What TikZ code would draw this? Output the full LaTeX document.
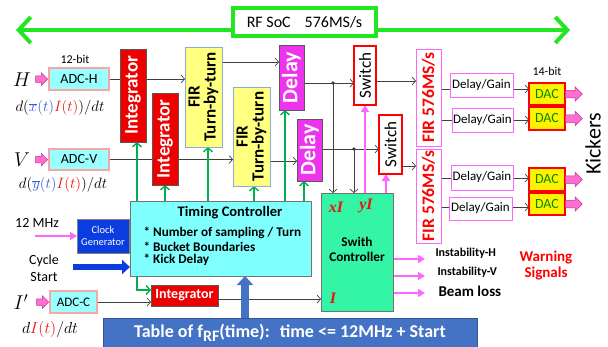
\documentclass[tikz,border=0pt]{standalone}
\usepackage{fix-cm}
\usepackage{fontspec}
\setmainfont{Carlito}
\newfontfamily\serifit{Liberation Serif}
\usetikzlibrary{arrows.meta,shapes.arrows,calc}
\pgfdeclarelayer{background}
\pgfsetlayers{background,main}
\newcommand\fs[1]{\fontsize{#1}{#1}\selectfont}
\newcommand\mybox[7]{\node[#2, minimum width={(#5-#3)*1pt}, minimum height={(#6-#4)*1pt}] (#1) at ({(#3+#5)/2},{(#4+#6)/2}) {#7};}
\definecolor{gline}{HTML}{404040}
\definecolor{bgreen}{HTML}{22E622}
\definecolor{tgreen}{HTML}{00B050}
\definecolor{intred}{HTML}{EE0000}
\definecolor{firyel}{HTML}{FFFF80}
\definecolor{firedge}{HTML}{8EA9DB}
\definecolor{delmag}{HTML}{EE33EE}
\definecolor{pinkl}{HTML}{FF66FF}
\definecolor{pinkf}{HTML}{FF6FCF}
\definecolor{pinkd}{HTML}{C0309A}
\definecolor{adccyan}{HTML}{99FFFF}
\definecolor{adcred}{HTML}{E05050}
\definecolor{adcpink}{HTML}{F4A8A8}
\definecolor{tccyan}{HTML}{80FFFF}
\definecolor{swgreen}{HTML}{33F5A5}
\definecolor{clkblue}{HTML}{0A3CE0}
\definecolor{tblblue}{HTML}{4472C4}
\definecolor{dacgreen}{HTML}{008A00}
\definecolor{fblue}{HTML}{2F5FE0}
\definecolor{fred}{HTML}{EE1111}
\tikzset{
 bx/.style={inner sep=0pt, outer sep=0pt},
 intbox/.style={bx, fill=intred, draw=black!65, line width=0.7pt},
 firbox/.style={bx, fill=firyel, draw=firedge, line width=0.9pt},
 delbox/.style={bx, fill=delmag, draw=black!65, line width=0.7pt},
 swbox/.style={bx, fill=white, draw=red, line width=1.6pt},
 ffbox/.style={bx, fill=white, draw=pinkl, line width=0.9pt},
 dgbox/.style={bx, fill=white, draw=pinkl, line width=0.9pt, font=\fs{13}},
 dacbox/.style={bx, fill=yellow, draw=red, line width=1.6pt, text=dacgreen, font=\fs{14}},
 adcbox/.style={bx, fill=adccyan, draw=adcred, line width=0.7pt, double=adcpink, double distance=1.4pt, font=\fs{14}},
 rtxt/.style={rotate=90, inner sep=0pt, align=center},
 mlab/.style={inner sep=0pt},
 gl/.style={draw=gline, line width=0.7pt, -{Straight Barb[length=3.5pt,width=8pt]}},
 glp/.style={draw=gline, line width=0.7pt},
 ga/.style={draw=tgreen, line width=1.4pt, -{Straight Barb[length=4pt,width=9pt]}},
 pk/.style={draw=pinkl, line width=1.6pt, -{Triangle[length=7pt,width=8pt]}},
 blk/.style={single arrow, fill=pinkf, draw=pinkd, line width=0.5pt, inner xsep=0pt, inner ysep=3pt, single arrow head extend=3pt, single arrow head indent=0pt},
}
\begin{document}
\begin{tikzpicture}[x=1pt,y=-1pt]
\useasboundingbox (0,0) rectangle (608,346);
% title
\mybox{rfsoc}{bx, draw=bgreen, line width=3.5pt, fill=white, font=\fs{16}}{233}{8}{376}{36}{RF SoC\hspace{14pt}576MS/s}
\coordinate (gL) at (16,30);
\coordinate (gR) at (570,30);
% inputs
\node[font=\fs{12}] (b12) at (75,59) {12-bit};
\node[font=\fs{12}] (b14) at (547,71) {14-bit};
\mybox{adch}{adcbox}{49}{68}{109}{90}{ADC-H}
\mybox{adcv}{adcbox}{49}{149}{109}{170}{ADC-V}
\mybox{adcc}{adcbox}{50}{291}{97}{313}{\fs{13}ADC-C}
\node[mlab, font=\fs{20}] (lH) at (22,80) {$H$};
\node[mlab, font=\fs{20}] (lV) at (22,160) {$V$};
\node[mlab, font=\fs{20}] (lI) at (21,302) {$I'$};
\node[mlab, font=\fs{15}] (fH) at (60,108) {$d\big(\textcolor{fblue}{\overline{x}(t)}\textcolor{fred}{I(t)}\big)/dt$};
\node[mlab, font=\fs{15}] (fV) at (63,185) {$d\big(\textcolor{fblue}{\overline{y}(t)}\textcolor{fred}{I(t)}\big)/dt$};
\node[mlab, font=\fs{16}] (fI) at (50,329) {$d\textcolor{fred}{I(t)}/dt$};
\node[blk, minimum height=12pt, anchor=tip] (aH) at ([xshift=-1pt]adch.west) {};
\node[blk, minimum height=12pt, anchor=tip] (aV) at ([xshift=-1pt]adcv.west) {};
\node[blk, minimum height=12pt, anchor=tip] (aC) at ([xshift=-1pt]adcc.west) {};
% processing blocks
\mybox{int1}{intbox}{120}{49}{146}{142}{}
\mybox{int2}{intbox}{152}{93}{178}{185}{}
\node[rtxt, text=white, font=\bfseries\fs{19}] (int1t) at (int1) {Integrator};
\node[rtxt, text=white, font=\bfseries\fs{19}] (int2t) at (int2) {Integrator};
\mybox{fir1}{firbox}{185}{47}{222}{147}{}
\mybox{fir2}{firbox}{233}{87}{270}{186}{}
\node[rtxt, font=\bfseries\fontsize{17}{16}\selectfont] (fir1t) at (fir1) {FIR\\Turn-by-turn};
\node[rtxt, font=\bfseries\fontsize{17}{16}\selectfont] (fir2t) at (fir2) {FIR\\Turn-by-turn};
\mybox{del1}{delbox}{279}{45}{304}{110}{}
\mybox{del2}{delbox}{297}{119}{322}{181}{}
\node[rtxt, text=white, font=\bfseries\fs{22}] (del1t) at (del1) {Delay};
\node[rtxt, text=white, font=\bfseries\fs{22}] (del2t) at (del2) {Delay};
\mybox{sw1}{swbox}{354}{46}{376}{105}{}
\mybox{sw2}{swbox}{379}{115}{402}{174}{}
\node[rtxt, font=\fs{17}] (sw1t) at (sw1) {Switch};
\node[rtxt, font=\fs{17}] (sw2t) at (sw2) {Switch};
\mybox{fira}{ffbox}{416}{49}{441}{146}{}
\mybox{firb}{ffbox}{416}{149}{441}{243}{}
\node[rtxt, text=red, font=\bfseries\fs{17.5}] (firat) at (fira) {FIR 576MS/s};
\node[rtxt, text=red, font=\bfseries\fs{17.5}] (firbt) at (firb) {FIR 576MS/s};
\mybox{dg1}{dgbox}{450}{73}{513}{97}{Delay/Gain}
\mybox{dg2}{dgbox}{452}{108}{513}{132}{Delay/Gain}
\mybox{dg3}{dgbox}{451}{165}{513}{190}{Delay/Gain}
\mybox{dg4}{dgbox}{449}{197}{512}{220}{Delay/Gain}
\mybox{dac1}{dacbox}{529}{83}{565}{105}{DAC}
\mybox{dac2}{dacbox}{529}{107}{565}{130}{DAC}
\mybox{dac3}{dacbox}{529}{168}{565}{191}{DAC}
\mybox{dac4}{dacbox}{529}{193}{565}{215}{DAC}
\node[blk, minimum height=17pt, inner ysep=3.5pt, single arrow head extend=3.5pt, anchor=tail] (k1) at (dac1.east) {};
\node[blk, minimum height=17pt, inner ysep=3.5pt, single arrow head extend=3.5pt, anchor=tail] (k2) at (dac2.east) {};
\node[blk, minimum height=17pt, inner ysep=3.5pt, single arrow head extend=3.5pt, anchor=tail] (k3) at (dac3.east) {};
\node[blk, minimum height=17pt, inner ysep=3.5pt, single arrow head extend=3.5pt, anchor=tail] (k4) at (dac4.east) {};
\node[rotate=90, font=\fs{22}] (kick) at (593,144) {Kickers};
% timing controller
\mybox{tc}{bx, fill=tccyan, draw=black!55, line width=0.7pt}{130}{201}{311}{276}{}
\node[font=\bfseries\fs{14.5}] (tct) at (230,213) {Timing Controller};
\node[anchor=west, font=\bfseries\fs{13.2}] (tc1) at (140,233) {* Number of sampling / Turn};
\node[anchor=west, font=\bfseries\fs{13.2}] (tc2) at (140,247) {* Bucket Boundaries};
\node[anchor=west, font=\bfseries\fs{13.2}] (tc3) at (140,260) {* Kick Delay};
\mybox{clk}{bx, fill=clkblue, draw=black!50, line width=0.6pt, text=white, font=\fontsize{10.5}{12}\selectfont, align=center}{77}{219}{129}{253}{Clock\\Generator}
\node[font=\fs{14}] (t12) at (37,223) {12 MHz};
\node[font=\fontsize{14}{17}\selectfont, align=center] (cs) at (44,268) {Cycle\\Start};
\coordinate (c12) at (35,236);
\coordinate (cb) at (73,267);
\mybox{int3}{intbox}{151}{285}{218}{306}{}
\node[text=white, font=\bfseries\fs{14}] (int3t) at (int3) {Integrator};
% switch controller
\mybox{swc}{bx, fill=swgreen, draw=black!55, line width=0.7pt}{321}{193}{393}{311}{}
\node[text=fred, font=\serifit\bfseries\itshape\fs{16}] (xI) at (336,207) {xI};
\node[text=fred, font=\serifit\bfseries\itshape\fs{16}] (yI) at (366,206) {yI};
\node[text=fred, font=\serifit\bfseries\itshape\fs{16}] (iI) at (333,298) {I};
\node[font=\bfseries\fontsize{13.3}{15}\selectfont, align=center] (swct) at (357,249) {Swith\\Controller};
% outputs
\coordinate (o1) at (425,259);
\coordinate (o2) at (425,276);
\coordinate (o3) at (425,293);
\node[anchor=west, font=\bfseries\fs{12}] (iH) at (432,253) {Instability-H};
\node[anchor=west, font=\bfseries\fs{12}] (iV) at (434,272) {Instability-V};
\node[anchor=west, font=\bfseries\fs{15}] (bl) at (435,291) {Beam loss};
\node[text=red, font=\bfseries\fontsize{15}{16}\selectfont, align=center] (ws) at (546,266) {Warning\\Signals};
% table
\mybox{tbl}{bx, fill=tblblue, draw=tblblue!75!black, line width=0.7pt, text=white, font=\bfseries\fs{18}}{103}{318}{477}{348}{Table of f\raisebox{-4pt}{\fs{16}RF}(time):\hspace{10pt}time <= 12MHz + Start}
\coordinate (ua) at (245,318);
% coordinates for connectors
\coordinate (r1) at (0,62);
\coordinate (r2) at (0,161);
\coordinate (d1) at (333,83);
\coordinate (d2) at (354,149);
\coordinate (r3) at (0,81);
\coordinate (r4) at (0,166);
\coordinate (q1) at (0,89);
\coordinate (q2) at (0,120);
\coordinate (q3) at (0,178);
\coordinate (q4) at (0,207);
\coordinate (p1) at (365,0);
\coordinate (p2) at (386,0);
\coordinate (g1) at (137,0);
\coordinate (g2) at (165,0);
\coordinate (g3) at (208,0);
\coordinate (g4) at (254,0);
\coordinate (g5) at (285,0);
\coordinate (g6) at (304,0);
\begin{pgfonlayer}{background}
\draw[bgreen, line width=4pt, {Straight Barb[length=12pt,width=26pt]}-{Straight Barb[length=12pt,width=26pt]}] (gL) -- (gR);
\draw[gl] (adch.east) -- (adch.east -| fir1.west);
\draw[gl] (adcv.east) -- (adcv.east -| fir2.west);
\draw[gl] (fir1.east |- r1) -- (del1.west |- r1);
\draw[gl] (fir2.east |- r2) -- (del2.west |- r2);
\draw[gl] (del1.east |- d1) -- (sw1.west |- d1);
\draw[gl] (d1) -- (d1 |- swc.north);
\draw[gl] (del2.east |- d2) -- (sw2.west |- d2);
\draw[gl] (d2) -- (d2 |- swc.north);
\fill[gline] (d1) circle (1.8pt) (d2) circle (1.8pt);
\draw[gl] (sw1.east |- r3) -- (fira.west |- r3);
\draw[gl] (sw2.east |- r4) -- (firb.west |- r4);
\draw[glp] (fira.east |- q1) -- (dg1.west |- q1);
\draw[glp] (fira.east |- q2) -- (dg2.west |- q2);
\draw[glp] (firb.east |- q3) -- (dg3.west |- q3);
\draw[glp] (firb.east |- q4) -- (dg4.west |- q4);
\draw[gl] (dg1.east |- q1) -- (dac1.west |- q1);
\draw[gl] (dg2.east |- q2) -- (dac2.west |- q2);
\draw[gl] (dg3.east |- q3) -- (dac3.west |- q3);
\draw[gl] (dg4.east |- q4) -- (dac4.west |- q4);
\draw[pk] (swc.north -| p1) -- (sw1.south -| p1);
\draw[pk] (swc.north -| p2) -- (sw2.south -| p2);
\draw[ga] (tc.north -| g1) -- (int1.south -| g1);
\draw[ga] (tc.north -| g2) -- (int2.south -| g2);
\draw[ga] (tc.north -| g3) -- (fir1.south -| g3);
\draw[ga] (tc.north -| g4) -- (fir2.south -| g4);
\draw[ga] (tc.north -| g5) -- (del1.south -| g5);
\draw[ga] (tc.north -| g6) -- (del2.south -| g6);
\draw[ga] (tc.south -| g1) |- ([yshift=5.5pt]int3.west);
\draw[gl] (adcc.east) -- (adcc.east -| int3.west);
\draw[gl] ([yshift=-3.5pt]int3.east) -- ([yshift=-3.5pt]int3.east -| swc.west);
\draw[pk] (c12) -- (c12 -| clk.west);
\draw[draw=clkblue, line width=6pt, -{Triangle[length=8pt,width=14pt]}] (cb) -- (cb -| tc.west);
\draw[draw=tblblue, line width=8pt, -{Triangle[length=9pt,width=16pt]}] (ua) -- (ua |- tc.south);
\draw[pk] (o1 -| swc.east) -- (o1);
\draw[pk] (o2 -| swc.east) -- (o2);
\draw[pk] (o3 -| swc.east) -- (o3);
\end{pgfonlayer}
\end{tikzpicture}
\end{document}
